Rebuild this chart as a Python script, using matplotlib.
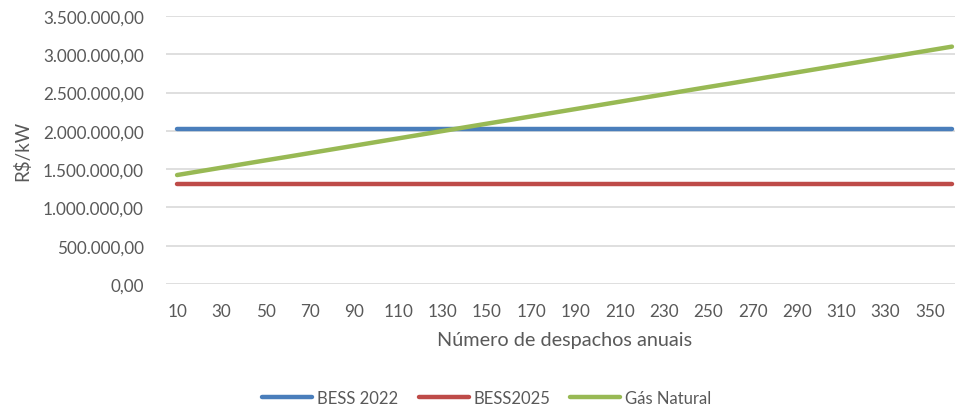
import matplotlib
matplotlib.use("Agg")
import matplotlib.pyplot as plt
from matplotlib.ticker import FuncFormatter

plt.rcParams['font.family'] = ['Lato', 'DejaVu Sans']

# Número de despachos anuais (categorias)
despachos = [10, 20, 30, 40, 50, 60, 70, 80, 90, 100, 110, 120,
             130, 140, 150, 160, 170, 180, 190, 200, 210, 220, 230, 240,
             250, 260, 270, 280, 290, 300, 310, 320, 330, 340, 350, 360]

# Custos em R$/kW
bess_2022 = [2024000] * 36
bess_2025 = [1306000] * 36
gas_natural = [1423000, 1471000, 1519000, 1567000, 1615000, 1662000,
               1710000, 1758000, 1806000, 1854000, 1902000, 1950000,
               1998000, 2046000, 2094000, 2141000, 2189000, 2237000,
               2285000, 2333000, 2381000, 2429000, 2477000, 2525000,
               2573000, 2620000, 2668000, 2716000, 2764000, 2812000,
               2860000, 2908000, 2956000, 3004000, 3052000, 3100000]

y_ticks = [0, 500000, 1000000, 1500000, 2000000, 2500000, 3000000, 3500000]
series_names = ['BESS 2022', 'BESS2025', 'Gás Natural']
colors = ['#4A7EBB', '#BE4B48', '#98B954']

fig = plt.figure(figsize=(9.55, 4.06), dpi=100)
ax = fig.add_axes([166 / 955, 1 - 285 / 406, (963 - 166) / 955, (285 - 17) / 406])

idx = list(range(len(despachos)))
for vals, name, c in zip([bess_2022, bess_2025, gas_natural], series_names, colors):
    ax.plot(idx, vals, color=c, lw=3.2, solid_capstyle='round', label=name, zorder=3)

ax.set_xlim(-0.5, len(despachos) - 0.5)
ax.set_ylim(0, 3500000)
ax.set_yticks(y_ticks)


def br_fmt(v, pos):
    s = f"{v:,.2f}"
    return s.replace(",", "X").replace(".", ",").replace("X", ".")


ax.yaxis.set_major_formatter(FuncFormatter(br_fmt))
ax.set_xticks(idx[::2])
ax.set_xticklabels([str(d) for d in despachos[::2]])

ax.grid(axis='y', color='#D9D9D9', lw=1.2, zorder=0)
for s in ax.spines.values():
    s.set_visible(False)
ax.tick_params(axis='both', length=0, colors='#595959', labelsize=12.3)
ax.tick_params(axis='y', pad=16)
ax.tick_params(axis='x', pad=14)

ax.set_xlabel('Número de despachos anuais', fontsize=14.3, color='#595959', labelpad=8)
ax.set_ylabel('R$/kW', fontsize=13.5, color='#595959', labelpad=8)

leg = fig.legend(loc='center', bbox_to_anchor=(487 / 955, 1 - 399 / 406), ncol=3,
                 frameon=False, fontsize=12, handlelength=3.0, handletextpad=0.3,
                 columnspacing=1.2)
for t in leg.get_texts():
    t.set_color('#595959')

fig.savefig('out.png', dpi=100)
